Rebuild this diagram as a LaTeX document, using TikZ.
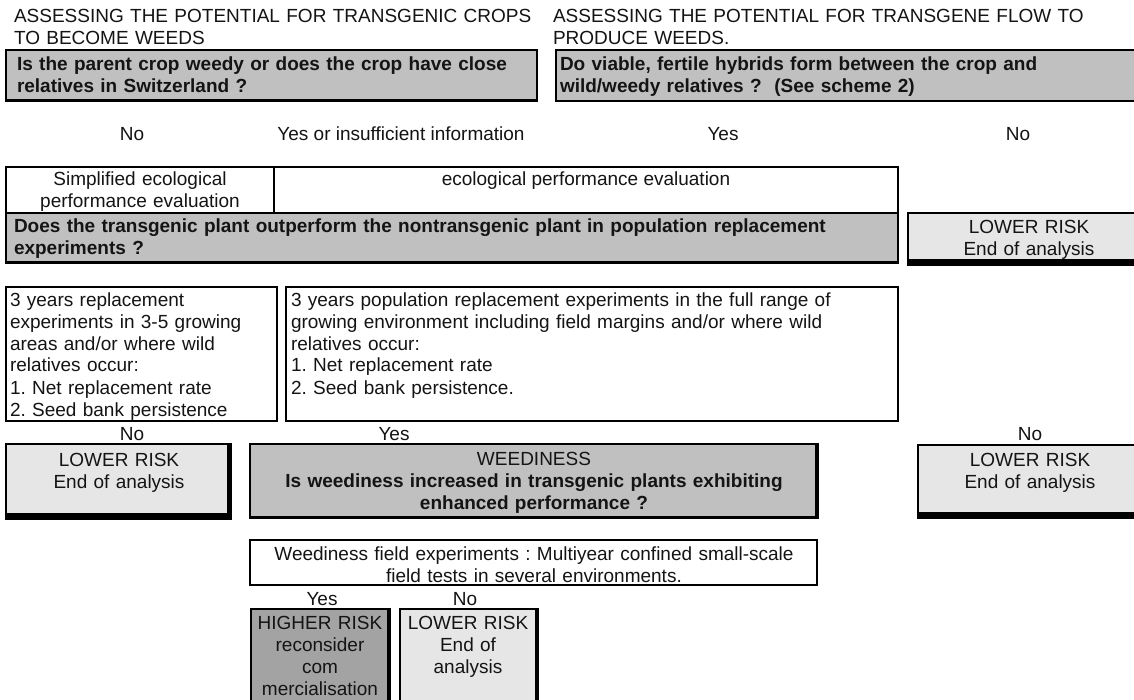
\documentclass[tikz,border=0pt]{standalone}
\usepackage{fontspec}
\setmainfont{Liberation Sans}
\frenchspacing
\newcommand\dfont{\fontsize{19}{22}\selectfont}
\definecolor{qgray}{RGB}{192,192,192}
\definecolor{lgray}{RGB}{230,230,230}
\definecolor{hgray}{RGB}{163,163,163}
\definecolor{ink}{RGB}{20,20,20}
% box: name, x1, y1, x2, y2, style
\newcommand\bx[6]{\node[#6, minimum width={(#4-#2)*1pt}, minimum height={(#5-#3)*1pt}] (#1) at ({(#2+#4)/2},{(#3+#5)/2}) {};}
% shadow: name, bottom thickness, right thickness
\newcommand\shd[3]{%
  \fill ([yshift=#2]#1.south west) rectangle (#1.south east);
  \fill ([xshift=-#3]#1.south east) rectangle (#1.north east);}
\begin{document}
\begin{tikzpicture}[x=1pt,y=-1pt,
  every node/.style={inner sep=0pt, outer sep=0pt, font=\dfont, text=ink},
  qbox/.style={draw=black, line width=2.5pt, fill=qgray},
  wbox/.style={draw=black, line width=1.3pt, fill=white},
  lbox/.style={draw=black, line width=1.3pt, fill=lgray},
  gbox/.style={draw=black, line width=1.6pt, fill=qgray},
  hbox/.style={draw=black, line width=1.3pt, fill=hgray},
  ltxt/.style={anchor=base west, text width=1000pt, align=left},
  btxt/.style={ltxt, font=\dfont\bfseries},
  ctxt/.style={anchor=base, align=center},
  lab/.style={anchor=base}]
\useasboundingbox (0,0) rectangle (1134,700);
\fill[white] (0,0) rectangle (1134,700);
\clip (0,0) rectangle (1134,700);

% ---- boxes ----
\bx{q1}{6}{50}{537}{101}{qbox}
\bx{q2}{556}{50}{1190}{101}{qbox}
\bx{simp}{6}{167}{274}{213}{wbox}
\bx{eco}{274}{167}{898}{213}{wbox}
\bx{q3}{6}{213}{898}{263}{qbox}
\bx{lr1}{908}{213}{1160}{265}{lbox}
\bx{yrs1}{6}{287}{277}{421}{wbox}
\bx{yrs2}{286}{287}{898}{421}{wbox}
\bx{lr2}{6}{444}{231}{519}{lbox}
\bx{weed}{250}{444}{818}{518}{gbox}
\bx{lr3}{918}{445}{1160}{518}{lbox}
\bx{field}{250}{540}{817}{585}{wbox}
\bx{hr}{251}{609}{390}{712}{hbox}
\bx{lr4}{400}{609}{538}{712}{lbox}

% ---- shadows ----
\shd{q1}{1.5pt}{1pt}
\shd{q3}{1.5pt}{1pt}
\shd{lr1}{6pt}{4pt}
\shd{lr2}{6pt}{4pt}
\shd{weed}{2pt}{3pt}
\shd{lr3}{6pt}{4pt}
\shd{hr}{0pt}{3.5pt}
\shd{lr4}{0pt}{3.5pt}

% ---- titles ----
\node[ltxt] (title1) at (14,23) {ASSESSING THE POTENTIAL FOR TRANSGENIC CROPS\\TO BECOME WEEDS};
\node[ltxt] (title2) at (553,23) {ASSESSING THE POTENTIAL FOR TRANSGENE FLOW TO\\PRODUCE WEEDS.};

% ---- texts in boxes ----
\node[btxt] (q1t) at (17,71) {Is the parent crop weedy or does the crop have close\\relatives in Switzerland ?};
\node[btxt] (q2t) at (560,71) {Do viable, fertile hybrids form between the crop and\\wild/weedy relatives ?\ \ (See scheme 2)};

\node[lab] (l1) at (132,141) {No};
\node[lab] (l2) at (401,141) {Yes or insufficient information};
\node[lab] (l3) at (723,141) {Yes};
\node[lab] (l4) at (1018,141) {No};

\node[ctxt, text width=260pt] (simpt) at (140,186) {Simplified ecological\\performance evaluation};
\node[lab] (ecot) at (586,186) {ecological performance evaluation};

\node[btxt] (q3t) at (14,233) {Does the transgenic plant outperform the nontransgenic plant in population replacement\\experiments ?};
\node[ctxt, text width=240pt] (lr1t) at (1029,234) {LOWER RISK\\End of analysis};

\node[ltxt] (yrs1t) at (10,306) {3 years replacement\\experiments in 3-5 growing\\areas and/or where wild\\relatives occur:\\1. Net replacement rate\\2. Seed bank persistence};
\node[ltxt] (yrs2t) at (291,306) {3 years population replacement experiments in the full range of\\growing environment including field margins and/or where wild\\relatives occur:\\1. Net replacement rate\\2. Seed bank persistence.};

\node[lab] (l5) at (132,440) {No};
\node[lab] (l6) at (394,440) {Yes};
\node[lab] (l7) at (1030,440) {No};

\node[ctxt, text width=220pt] (lr2t) at (119,466) {LOWER RISK\\End of analysis};
\node[ctxt, text width=560pt] (weedt) at (534,465) {WEEDINESS\\{\bfseries Is weediness increased in transgenic plants exhibiting}\\{\bfseries enhanced performance ?}};
\node[ctxt, text width=240pt] (lr3t) at (1030,466) {LOWER RISK\\End of analysis};

\node[ctxt, text width=560pt] (fieldt) at (534,560) {Weediness field experiments : Multiyear confined small-scale\\field tests in several environments.};

\node[lab] (l8) at (322,605) {Yes};
\node[lab] (l9) at (465,605) {No};

\node[ctxt, text width=136pt] (hrt) at (320,629) {HIGHER RISK\\reconsider\\com\\mercialisation};
\node[ctxt, text width=136pt] (lr4t) at (468,629) {LOWER RISK\\End of\\analysis};
\end{tikzpicture}
\end{document}
